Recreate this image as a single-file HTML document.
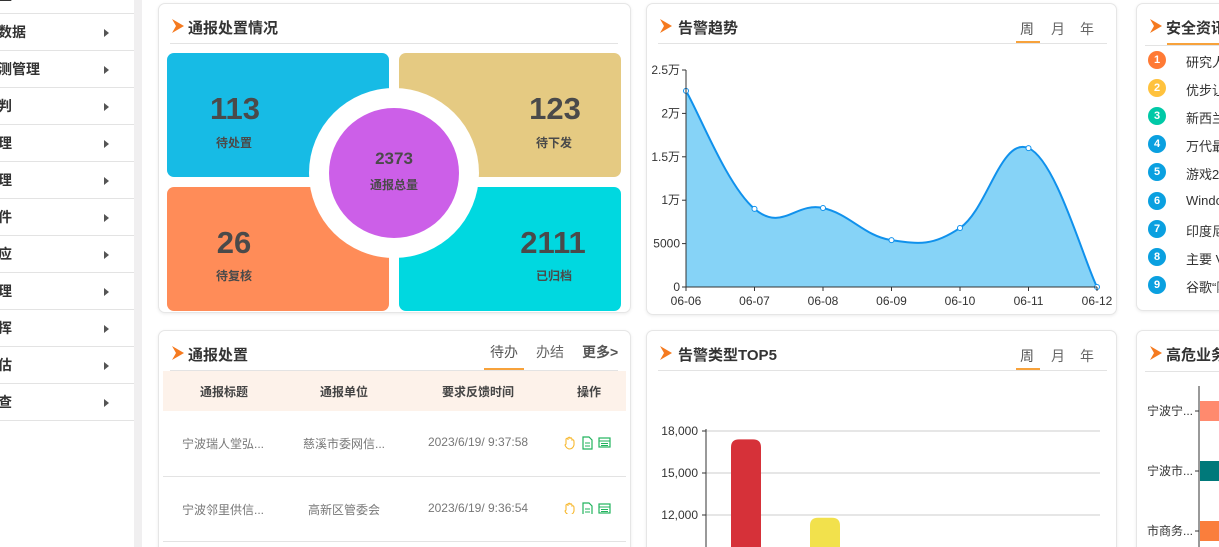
<!DOCTYPE html>
<html><head><meta charset="utf-8">
<style>
*{margin:0;padding:0;box-sizing:border-box}
html,body{width:1219px;height:547px;overflow:hidden;background:#fff}
body{font-family:"Liberation Sans","Noto Sans CJK SC",sans-serif;color:#333}
#root{position:relative;width:1219px;height:547px;overflow:hidden}
.abs{position:absolute}
#sidebar{left:0;top:0;width:134px;height:547px;background:#fff;overflow:hidden}
#strip{left:134px;top:0;width:8px;height:547px;background:#f0eff0}
.mi{position:absolute;left:0;width:134px;height:37px;border-bottom:1px solid #e3e3e3;font-size:14px;font-weight:bold;color:#333;line-height:37px;white-space:nowrap}
.mi span{position:absolute;left:-2px}
.mi i{position:absolute;left:104px;top:15px;width:0;height:0;border-top:4px solid transparent;border-bottom:4px solid transparent;border-left:5px solid #555}
.card{position:absolute;background:#fff;border:1px solid #e6e6e6;border-radius:7px;box-shadow:0 1px 3px rgba(0,0,0,.08);overflow:hidden}
.ttl{position:absolute;font-size:15px;font-weight:bold;color:#333;white-space:nowrap}
.chev{position:absolute;width:12px;height:14px}
.sep{position:absolute;height:1px;background:#e3e3e3}
.tab{position:absolute;font-size:14px;color:#666}
.tab.on{color:#555}
.uline{position:absolute;height:2px;background:#f7a23b}
.tile{position:absolute;border-radius:7px}
.num{position:absolute;font-size:31px;font-weight:bold;color:#4a4a4a;transform:translateX(-50%)}
.lbl{position:absolute;font-size:12px;font-weight:bold;color:#4a4a4a;transform:translateX(-50%)}
.th{position:absolute;top:383px;font-size:12px;font-weight:bold;color:#444;transform:translateX(-50%)}
.td{position:absolute;font-size:12px;color:#777;transform:translateX(-50%);white-space:nowrap}
.ni{position:absolute;left:1148px;width:18px;height:18px;border-radius:50%;color:#fff;font-size:11px;font-weight:bold;text-align:center;line-height:18px}
.nt{position:absolute;left:1186px;font-size:13px;color:#333;white-space:nowrap}
</style></head><body>
<div id="root">

<div id="sidebar" class="abs">
  <div class="mi" style="top:-23px"><span>置</span><i></i></div>
  <div class="mi" style="top:14px"><span>数据</span><i></i></div>
  <div class="mi" style="top:51px"><span>测管理</span><i></i></div>
  <div class="mi" style="top:88px"><span>判</span><i></i></div>
  <div class="mi" style="top:125px"><span>理</span><i></i></div>
  <div class="mi" style="top:162px"><span>理</span><i></i></div>
  <div class="mi" style="top:199px"><span>件</span><i></i></div>
  <div class="mi" style="top:236px"><span>应</span><i></i></div>
  <div class="mi" style="top:273px"><span>理</span><i></i></div>
  <div class="mi" style="top:310px"><span>挥</span><i></i></div>
  <div class="mi" style="top:347px"><span>估</span><i></i></div>
  <div class="mi" style="top:384px"><span>查</span><i></i></div>
</div>
<div id="strip" class="abs"></div>

<svg width="0" height="0" style="position:absolute"><defs><symbol id="chv" viewBox="0 0 12 14"><path d="M0 0 L12 7 L0 14 L4 7 Z" fill="#f57a1f"/></symbol></defs></svg>

<!-- Card 1 -->
<div class="card" style="left:158px;top:3px;width:473px;height:310px"></div>
<svg class="chev" style="left:172px;top:19px"><use href="#chv"/></svg>
<div class="ttl" style="left:188px;top:17px">通报处置情况</div>
<div class="sep" style="left:170px;top:43px;width:448px"></div>
<div class="tile" style="left:167px;top:53px;width:222px;height:124px;background:#17bbe5"></div>
<div class="tile" style="left:399px;top:53px;width:222px;height:124px;background:#e5ca82"></div>
<div class="tile" style="left:167px;top:187px;width:222px;height:124px;background:#ff8c58"></div>
<div class="tile" style="left:399px;top:187px;width:222px;height:124px;background:#00d8e0"></div>
<div class="abs" style="left:309px;top:88px;width:170px;height:170px;border-radius:50%;background:#fff"></div>
<div class="abs" style="left:329px;top:108px;width:130px;height:130px;border-radius:50%;background:#cc5fe8"></div>
<div class="num" style="left:235px;top:91px">113</div>
<div class="lbl" style="left:234px;top:134px">待处置</div>
<div class="num" style="left:555px;top:91px">123</div>
<div class="lbl" style="left:554px;top:134px">待下发</div>
<div class="num" style="left:234px;top:225px">26</div>
<div class="lbl" style="left:234px;top:267px">待复核</div>
<div class="num" style="left:553px;top:225px">2111</div>
<div class="lbl" style="left:554px;top:267px">已归档</div>
<div class="num" style="left:394px;top:149px;font-size:17px">2373</div>
<div class="lbl" style="left:394px;top:176px">通报总量</div>

<!-- Card 2: trend -->
<div class="card" style="left:646px;top:3px;width:471px;height:312px"></div>
<svg class="chev" style="left:660px;top:19px"><use href="#chv"/></svg>
<div class="ttl" style="left:678px;top:17px">告警趋势</div>
<div class="sep" style="left:658px;top:43px;width:449px"></div>
<div class="tab on" style="left:1020px;top:19px">周</div>
<div class="tab" style="left:1051px;top:19px">月</div>
<div class="tab" style="left:1080px;top:19px">年</div>
<div class="uline" style="left:1016px;top:41px;width:24px"></div>
<svg id="trend" class="abs" style="left:0;top:0" width="1219" height="320"></svg>

<!-- Card 3: news -->
<div class="card" style="left:1136px;top:3px;width:100px;height:308px"></div>
<svg class="chev" style="left:1150px;top:19px"><use href="#chv"/></svg>
<div class="ttl" style="left:1166px;top:17px">安全资讯</div>
<div class="sep" style="left:1145px;top:45px;width:80px"></div>
<div class="uline" style="left:1167px;top:43px;width:60px"></div>
<div id="news"></div>

<!-- Card 4: table -->
<div class="card" style="left:158px;top:330px;width:473px;height:240px"></div>
<svg class="chev" style="left:172px;top:346px"><use href="#chv"/></svg>
<div class="ttl" style="left:188px;top:344px">通报处置</div>
<div class="tab on" style="left:490px;top:342px">待办</div>
<div class="tab" style="left:536px;top:342px">办结</div>
<div class="tab" style="left:582px;top:342px;font-weight:bold;color:#555">更多&gt;</div>
<div class="uline" style="left:484px;top:368px;width:40px"></div>
<div class="sep" style="left:170px;top:370px;width:448px"></div>
<div class="abs" style="left:163px;top:371px;width:463px;height:40px;background:#fdf2ea"></div>
<div class="th" style="left:224px">通报标题</div>
<div class="th" style="left:344px">通报单位</div>
<div class="th" style="left:478px">要求反馈时间</div>
<div class="th" style="left:589px">操作</div>
<div class="td" style="left:223px;top:435px">宁波瑞人堂弘...</div>
<div class="td" style="left:344px;top:435px">慈溪市委网信...</div>
<div class="td" style="left:478px;top:435px">2023/6/19/ 9:37:58</div>
<div class="sep" style="left:163px;top:476px;width:463px"></div>
<div class="td" style="left:223px;top:501px">宁波邻里供信...</div>
<div class="td" style="left:344px;top:501px">高新区管委会</div>
<div class="td" style="left:478px;top:501px">2023/6/19/ 9:36:54</div>
<div class="sep" style="left:163px;top:541px;width:463px"></div>
<svg class="abs" style="left:563px;top:434px" width="50" height="80">
  <g><path d="M3 10 L3 5 Q5 3 5 6 L5 4 Q7 2 7 5 L7 4 Q9 3 9 6 L9 6 Q11 5 11 8 L11 11 Q10 15 6 15 Q3 14 2 11 Z" fill="none" stroke="#f7b82e" stroke-width="1.1"/></g>
  <g><path d="M20 3 H26 L29 6 V15 H20 Z" fill="none" stroke="#22b35e" stroke-width="1.2"/><path d="M22 9H27M22 12H27" stroke="#22b35e"/></g>
  <g><rect x="36" y="4" width="11" height="9" fill="none" stroke="#22b35e" stroke-width="1.2"/><path d="M36 7H47M38 9.5H45M38 11.5H45" stroke="#22b35e"/></g>
  <g transform="translate(0,66)">
  <g><path d="M3 10 L3 5 Q5 3 5 6 L5 4 Q7 2 7 5 L7 4 Q9 3 9 6 L9 6 Q11 5 11 8 L11 11 Q10 15 6 15 Q3 14 2 11 Z" fill="none" stroke="#f7b82e" stroke-width="1.1"/></g>
  <g><path d="M20 3 H26 L29 6 V15 H20 Z" fill="none" stroke="#22b35e" stroke-width="1.2"/><path d="M22 9H27M22 12H27" stroke="#22b35e"/></g>
  <g><rect x="36" y="4" width="11" height="9" fill="none" stroke="#22b35e" stroke-width="1.2"/><path d="M36 7H47M38 9.5H45M38 11.5H45" stroke="#22b35e"/></g>
  </g>
</svg>

<!-- Card 5: top5 -->
<div class="card" style="left:646px;top:330px;width:471px;height:240px"></div>
<svg class="chev" style="left:660px;top:346px"><use href="#chv"/></svg>
<div class="ttl" style="left:678px;top:344px">告警类型TOP5</div>
<div class="tab on" style="left:1020px;top:346px">周</div>
<div class="tab" style="left:1051px;top:346px">月</div>
<div class="tab" style="left:1080px;top:346px">年</div>
<div class="uline" style="left:1016px;top:368px;width:24px"></div>
<div class="sep" style="left:658px;top:370px;width:449px"></div>
<svg id="top5" class="abs" style="left:0;top:0" width="1219" height="547"></svg>

<!-- Card 6 -->
<div class="card" style="left:1136px;top:330px;width:100px;height:240px"></div>
<svg class="chev" style="left:1150px;top:346px"><use href="#chv"/></svg>
<div class="ttl" style="left:1166px;top:344px">高危业务</div>
<div class="sep" style="left:1145px;top:371px;width:80px"></div>
<svg id="risk" class="abs" style="left:0;top:0" width="1219" height="547"></svg>
</div>

<script>
const NS='http://www.w3.org/2000/svg';
function mk(parent,tag,attrs,txt){const e=document.createElementNS(NS,tag);for(const k in attrs)e.setAttribute(k,attrs[k]);if(txt!==undefined)e.textContent=txt;parent.appendChild(e);return e;}

// ---- trend data ----
const trendDates=['06-06','06-07','06-08','06-09','06-10','06-11','06-12'];
const trendValues=[22600,9000,9100,5400,6800,16000,0];
const trendTicks=[0,5000,10000,15000,20000,25000];
const trendTickLabels=['0','5000','1万','1.5万','2万','2.5万'];

(function(){
  const svg=document.getElementById('trend');
  const x0=686,x1=1097,yb=287,yt=70,ymax=25000;
  const X=i=>x0+(x1-x0)*i/(trendDates.length-1);
  const Y=v=>yb-(yb-yt)*v/ymax;
  const pts=trendValues.map((v,i)=>[X(i),Y(v)]);
  let d='M'+pts[0][0]+' '+pts[0][1];
  for(let i=0;i<pts.length-1;i++){
    const p0=pts[Math.max(i-1,0)],p1=pts[i],p2=pts[i+1],p3=pts[Math.min(i+2,pts.length-1)];
    const t=0.2;
    let c1y=p1[1]+(p2[1]-p0[1])*t, c2y=p2[1]-(p3[1]-p1[1])*t;
    c1y=Math.min(c1y,yb);c2y=Math.min(c2y,yb);
    d+=` C${p1[0]+(p2[0]-p0[0])*t} ${c1y} ${p2[0]-(p3[0]-p1[0])*t} ${c2y} ${p2[0]} ${p2[1]}`;
  }
  const area=mk(svg,'path',{d:d+` L${X(trendDates.length-1)} ${yb} L${x0} ${yb} Z`,fill:'#86d3f7'});
  
  
  const line=mk(svg,'path',{d:d,fill:'none',stroke:'#1091ec','stroke-width':2});
  
  
  pts.forEach((p,i)=>{const c=mk(svg,'circle',{cx:p[0],cy:p[1],r:2.5,fill:'#fff',stroke:'#1091ec','stroke-width':1});
    
    });
  const ax=mk(svg,'line',{x1:x0,y1:yt,x2:x0,y2:yb,stroke:'#333'});
  
  
  const bx=mk(svg,'line',{x1:x0,y1:yb,x2:x1,y2:yb,stroke:'#333'});
  
  
  trendTicks.forEach((v,i)=>{mk(svg,'line',{x1:x0-4,y1:Y(v),x2:x0,y2:Y(v),stroke:'#333'});
    const t=mk(svg,'text',{x:x0-6,y:Y(v)+4,'text-anchor':'end','font-size':12,fill:'#333'},trendTickLabels[i]);
    
    });
  trendDates.forEach((s,i)=>{mk(svg,'line',{x1:X(i),y1:yb,x2:X(i),y2:yb+4,stroke:'#333'});
    const t=mk(svg,'text',{x:X(i),y:yb+18,'text-anchor':'middle','font-size':12,fill:'#333'},s);
    
    });
})();

// ---- news ----
const newsTitles=['研究人','优步让','新西兰','万代最','游戏2','Windo','印度尼','主要 V','谷歌“阿'];
const newsColors=['#ff7a35','#ffc23d','#00c9a7','#0aa0e0','#0aa0e0','#0aa0e0','#0aa0e0','#0aa0e0','#0aa0e0'];
(function(){
  const box=document.getElementById('news');
  newsTitles.forEach((s,i)=>{
    const y=51+i*28.1;
    const n=document.createElement('div');n.className='ni';n.style.top=y+'px';n.style.background=newsColors[i];n.textContent=i+1;
    
    
    box.appendChild(n);
    const t=document.createElement('div');t.className='nt';t.style.top=(y+1)+'px';t.textContent=s;
    
    
    box.appendChild(t);
  });
})();

// ---- top5 ----
const top5Categories=['类型1','类型2','类型3','类型4','类型5'];
const top5Values=[17400,11800,8000,5000,3000];
const top5Colors=['#d63139','#f2e14c','#4fc3e8','#6ad08c','#f59a4a'];
const top5Ticks=[12000,15000,18000];
const top5TickLabels=['12,000','15,000','18,000'];
(function(){
  const svg=document.getElementById('top5');
  const x0=706,x1=1100,y18=431,pxPer=42/3000;
  const Y=v=>y18+(18000-v)*pxPer;
  const X=i=>746+i*79;
  top5Ticks.forEach((v,i)=>{
    const g=mk(svg,'line',{x1:x0,y1:Y(v),x2:x1,y2:Y(v),stroke:'#ccc'});
    
    
    mk(svg,'line',{x1:x0-4,y1:Y(v),x2:x0,y2:Y(v),stroke:'#333'});
    const t=mk(svg,'text',{x:x0-8,y:Y(v)+4,'text-anchor':'end','font-size':12,fill:'#333'},top5TickLabels[i]);
    
    
  });
  const ax=mk(svg,'line',{x1:x0,y1:y18-2,x2:x0,y2:560,stroke:'#333'});
  
  
  top5Values.forEach((v,i)=>{
    const top=Y(v),w=30,x=X(i)-w/2,b=Y(0);
    const p=mk(svg,'path',{d:`M${x} ${b} V${top+8} Q${x} ${top} ${x+8} ${top} H${x+w-8} Q${x+w} ${top} ${x+w} ${top+8} V${b} Z`,fill:top5Colors[i]});
    
    
  });
})();

// ---- high risk ----
const riskCategories=['宁波宁...','宁波市...','市商务...'];
const riskValues=[80,70,60];
const riskColors=['#ff8a6e','#00797a','#fa7e3c'];
(function(){
  const svg=document.getElementById('risk');
  const x0=1199;
  const ax=mk(svg,'line',{x1:x0,y1:386,x2:x0,y2:560,stroke:'#333'});
  
  
  riskCategories.forEach((c,i)=>{
    const y=411+i*60;
    mk(svg,'line',{x1:x0-4,y1:y,x2:x0,y2:y,stroke:'#333'});
    const t=mk(svg,'text',{x:x0-6,y:y+4,'text-anchor':'end','font-size':12,fill:'#333'},c);
    
    
    const r=mk(svg,'rect',{x:x0+1,y:y-10,width:riskValues[i]*2,height:20,fill:riskColors[i]});
    
    
  });
})();
</script>
</body></html>
